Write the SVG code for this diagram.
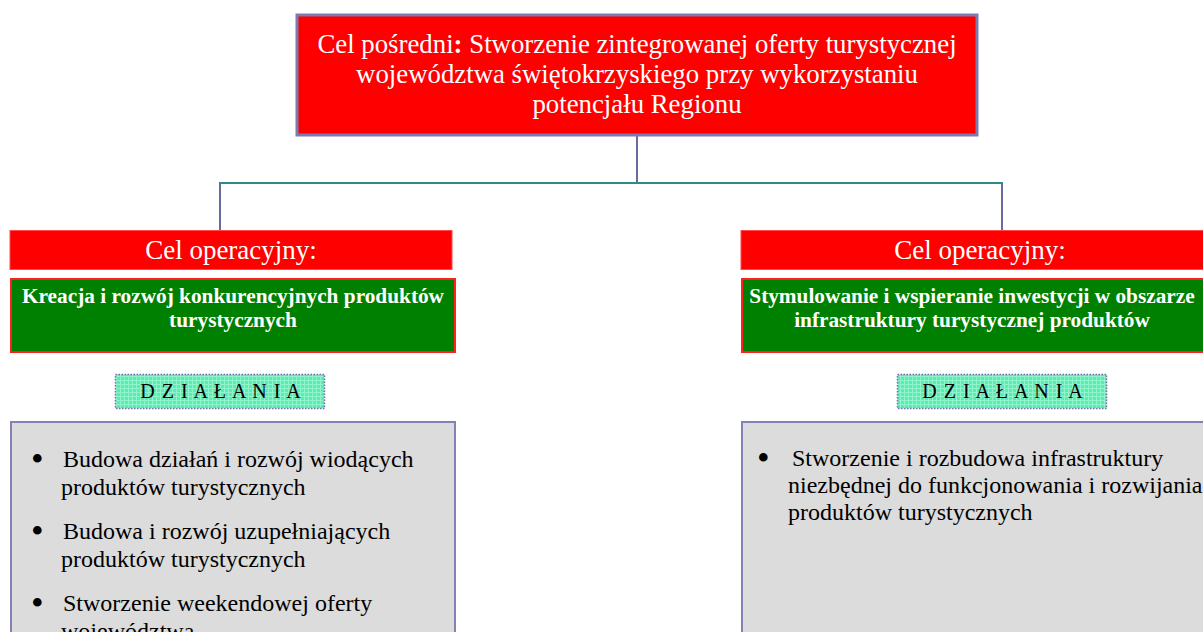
<svg xmlns="http://www.w3.org/2000/svg" width="1203" height="632" viewBox="0 0 1203 632">
<defs>
<pattern id="dots" width="4" height="4" patternUnits="userSpaceOnUse">
<rect width="4" height="4" fill="#55efb0"/>
<rect width="1" height="4" fill="#8ff3cc"/>
<rect width="4" height="1" fill="#8ff3cc"/>
</pattern>
</defs>
<style>
.serif{font-family:"Liberation Serif","Times New Roman",serif}
.top{fill:#ff0000;stroke:#7b7baf;stroke-width:3}
.red{fill:#ff0000;stroke:#ff4a4a;stroke-width:1}
.green{fill:#008000;stroke:#ff2020;stroke-width:2}
.dz{fill:url(#dots);stroke:#7a6ab0;stroke-width:1.5;stroke-dasharray:1.5 1.5}
.grey{fill:#dcdcdc;stroke:#8282b4;stroke-width:2}
.wt{fill:#ffffff}
.bk{fill:#000000}
.bul{font-size:36px}
.vline{stroke:#6a6aa0;stroke-width:2;fill:none}
.hline{stroke:#2e8b8b;stroke-width:2;fill:none}
</style>
<rect width="1203" height="632" fill="#ffffff"/>
<g id="connectors">
<line class="vline" x1="637" y1="135" x2="637" y2="183"/>
<line class="hline" x1="219" y1="183" x2="1003" y2="183"/>
<line class="vline" x1="220" y1="183" x2="220" y2="231"/>
<line class="vline" x1="1002" y1="183" x2="1002" y2="231"/>
</g>
<g id="top">
<rect class="top" x="297" y="15" width="680" height="120"/>
<text class="serif wt" font-size="26.8" text-anchor="middle"><tspan x="637" y="53">Cel pośredni<tspan font-weight="bold">:</tspan> Stworzenie zintegrowanej oferty turystycznej</tspan><tspan x="637" y="83">województwa świętokrzyskiego przy wykorzystaniu</tspan><tspan x="637" y="113">potencjału Regionu</tspan></text>
</g>
<g id="left-cel">
<rect class="red" x="10" y="230.5" width="442" height="39"/>
<text class="serif wt" font-size="27" x="231" y="259" text-anchor="middle">Cel operacyjny:</text>
</g>
<g id="left-goal">
<rect class="green" x="11" y="279" width="444" height="73"/>
<text class="serif wt" font-size="21.3" font-weight="bold" text-anchor="middle"><tspan x="233" y="303">Kreacja i rozwój konkurencyjnych produktów</tspan><tspan x="233" y="327">turystycznych</tspan></text>
</g>
<g id="left-dzialania">
<rect class="dz" x="115.5" y="374.5" width="209" height="34"/>
<text class="serif bk" font-size="20" letter-spacing="1" x="221" y="398" text-anchor="middle">D Z I A Ł A N I A</text>
</g>
<g id="left-list">
<rect class="grey" x="11" y="422" width="444" height="230"/>
<g class="serif bk" font-size="24">
<text class="bul" x="31" y="471">•</text>
<text x="63" y="467">Budowa działań i rozwój wiodących</text>
<text x="61" y="495">produktów turystycznych</text>
<text class="bul" x="31" y="543">•</text>
<text x="63" y="539">Budowa i rozwój uzupełniających</text>
<text x="61" y="567">produktów turystycznych</text>
<text class="bul" x="31" y="615">•</text>
<text x="63" y="611">Stworzenie weekendowej oferty</text>
<text x="61" y="639">województwa</text>
</g>
</g>
<g id="right-cel">
<rect class="red" x="741" y="230.5" width="480" height="39"/>
<text class="serif wt" font-size="27" x="980" y="259" text-anchor="middle">Cel operacyjny:</text>
</g>
<g id="right-goal">
<rect class="green" x="742" y="279" width="470" height="73"/>
<text class="serif wt" font-size="21.3" font-weight="bold" text-anchor="middle"><tspan x="972" y="303">Stymulowanie i wspieranie inwestycji w obszarze</tspan><tspan x="972" y="327">infrastruktury turystycznej produktów</tspan></text>
</g>
<g id="right-dzialania">
<rect class="dz" x="897.5" y="374.5" width="209" height="34"/>
<text class="serif bk" font-size="20" letter-spacing="1" x="1003" y="398" text-anchor="middle">D Z I A Ł A N I A</text>
</g>
<g id="right-list">
<rect class="grey" x="742" y="422" width="480" height="230"/>
<g class="serif bk" font-size="24">
<text class="bul" x="757" y="470">•</text>
<text x="792" y="466">Stworzenie i rozbudowa infrastruktury</text>
<text x="788" y="493">niezbędnej do funkcjonowania i rozwijania</text>
<text x="788" y="520">produktów turystycznych</text>
</g>
</g>
</svg>
